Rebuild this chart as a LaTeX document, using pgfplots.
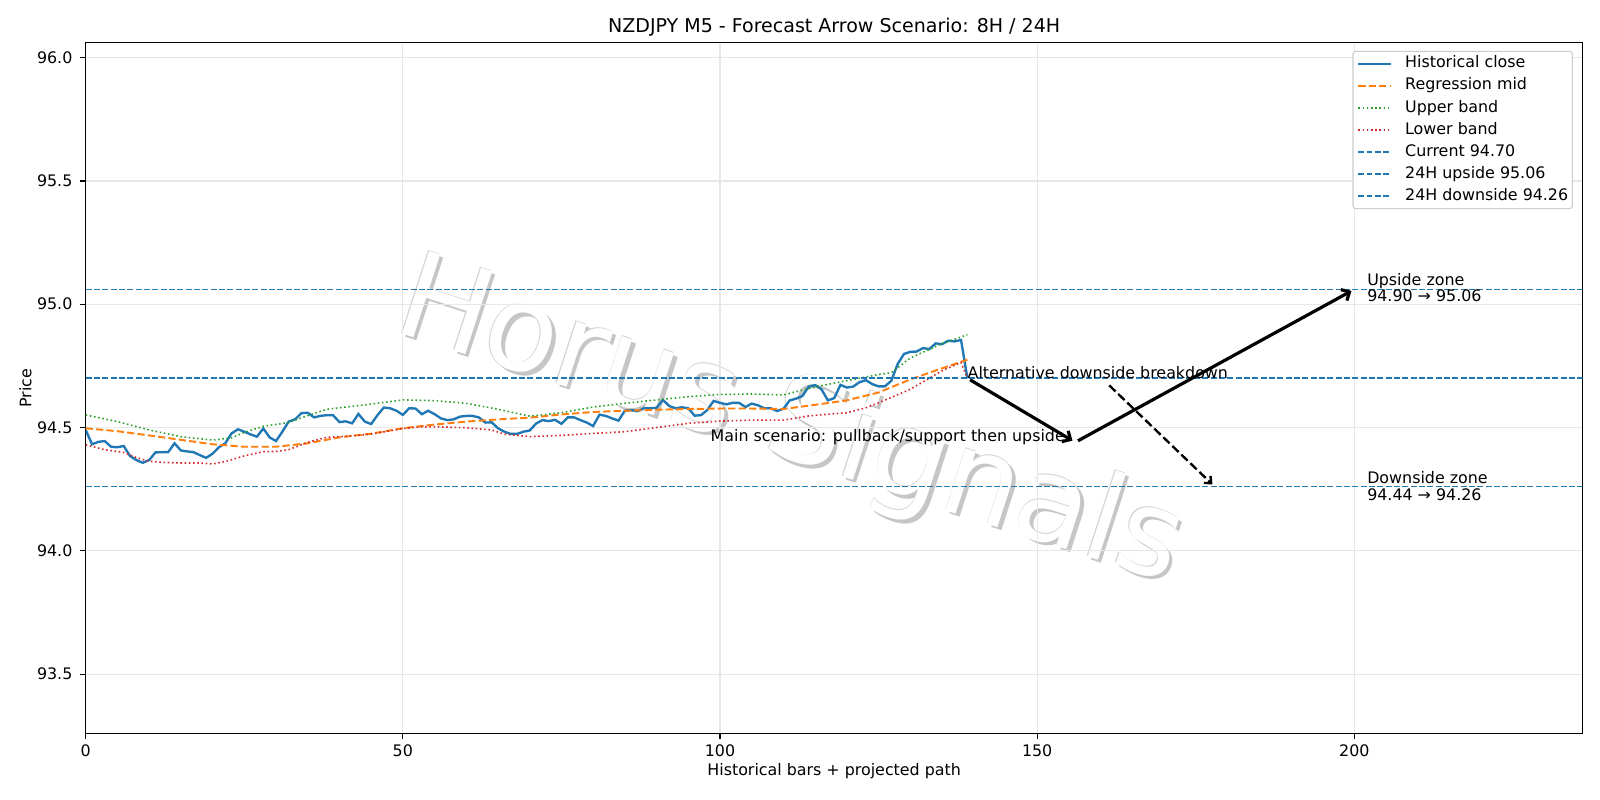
\documentclass[border=0pt]{standalone}
\usepackage{fontspec}
\setmainfont{DejaVu Sans}
\usepackage{pgfplots}
\pgfplotsset{compat=1.18}
\usetikzlibrary{arrows.meta}
\definecolor{c0}{HTML}{1F77B4}
\definecolor{c1}{HTML}{FF7F0E}
\definecolor{c2}{HTML}{2CA02C}
\definecolor{c3}{HTML}{D62728}
\definecolor{gridc}{HTML}{E7E7E7}
\definecolor{legc}{HTML}{CCCCCC}
\newcommand\fs{\fontsize{11.43}{13.7}\selectfont}
\newcommand\wm{\fontsize{86}{95}\selectfont}
\begin{document}
\begin{tikzpicture}
\path[use as bounding box] (-61.7pt,-48pt) rectangle (1090.3pt,528pt);
% watermark
\node[text=gray!45, rotate=-18, font=\wm] at (509.5pt,219.5pt) {Horus Signals};
\node[text=gray!35, rotate=-18, font=\wm] at (506.5pt,222.5pt) {Horus Signals};
\node[text=white, rotate=-18, font=\wm] at (507pt,222pt) {Horus Signals};
\begin{axis}[
  scale only axis, width=1077.8pt, height=497.2pt,
  xmin=0, xmax=236, ymin=93.26, ymax=96.06,
  axis line style={line width=0.9pt},
  every tick/.style={black, line width=0.9pt},
  tick align=outside, major tick length=4pt, tick pos=left,
  xtick={0,50,100,150,200}, ytick={93.5,94,94.5,95,95.5,96},
  grid=major, grid style={gridc, line width=0.9pt},
  /pgf/number format/assume math mode=true,
  xticklabel style={font=\fs, anchor=base, inner sep=0pt, yshift=-12.4pt, /pgf/number format/.cd, fixed, precision=0},
  yticklabel style={font=\fs, anchor=east, inner sep=0pt, xshift=-5.4pt, /pgf/number format/.cd, fixed, fixed zerofill, precision=1},
  title={NZDJPY M5 - Forecast Arrow Scenario: 8H / 24H},
  title style={font=\fontsize{13.7}{16}\selectfont, at={(0.5,1)}, anchor=base, yshift=1.4pt, inner sep=0pt},
  xlabel={Historical bars + projected path},
  xlabel style={font=\fs, at={(0.5,0)}, anchor=base, yshift=-30.7pt, inner sep=0pt},
  ylabel={Price},
  ylabel style={font=\fs, at={([xshift=-43.3pt]axis description cs:0,0.5)}, anchor=center, inner sep=0pt},
  legend cell align=left,
  legend image code/.code={\draw[#1] (0pt,0pt) -- (23.5pt,0pt);},
  legend style={at={(1,1)}, anchor=north east, xshift=-7pt, yshift=-5.8pt,
    draw=legc, line width=0.8pt, rounded corners=2pt, fill=white,
    font=\fs, inner xsep=3pt, inner ysep=3.4pt, row sep=4.9pt,
    nodes={inner sep=0pt, text height=8.5pt, text depth=2.5pt},
    /tikz/every odd column/.append style={column sep=9.4pt}},
]
\addplot[c0, line width=1.7pt] coordinates {
(0,94.490)(1,94.432)(2,94.442)(3,94.445)(4,94.422)(5,94.420)(6,94.425)(7,94.384)(8,94.368)(9,94.357)(10,94.368)(11,94.399)(12,94.400)(13,94.400)(14,94.436)(15,94.407)(16,94.403)(17,94.400)(18,94.388)(19,94.377)(20,94.394)(21,94.420)(22,94.436)(23,94.476)(24,94.493)(25,94.483)(26,94.472)(27,94.463)(28,94.496)(29,94.460)(30,94.445)(31,94.483)(32,94.524)(33,94.533)(34,94.558)(35,94.560)(36,94.541)(37,94.547)(38,94.550)(39,94.550)(40,94.522)(41,94.525)(42,94.517)(43,94.555)(44,94.524)(45,94.514)(46,94.550)(47,94.581)(48,94.578)(49,94.568)(50,94.551)(51,94.578)(52,94.577)(53,94.554)(54,94.568)(55,94.554)(56,94.537)(57,94.530)(58,94.533)(59,94.544)(60,94.547)(61,94.547)(62,94.541)(63,94.520)(64,94.521)(65,94.497)(66,94.483)(67,94.474)(68,94.474)(69,94.483)(70,94.488)(71,94.516)(72,94.530)(73,94.526)(74,94.531)(75,94.515)(76,94.541)(77,94.541)(78,94.530)(79,94.520)(80,94.506)(81,94.552)(82,94.547)(83,94.537)(84,94.528)(85,94.568)(86,94.571)(87,94.566)(88,94.578)(89,94.578)(90,94.580)(91,94.612)(92,94.587)(93,94.578)(94,94.582)(95,94.578)(96,94.548)(97,94.550)(98,94.571)(99,94.608)(100,94.600)(101,94.594)(102,94.600)(103,94.600)(104,94.583)(105,94.597)(106,94.590)(107,94.578)(108,94.578)(109,94.567)(110,94.576)(111,94.610)(112,94.617)(113,94.628)(114,94.666)(115,94.672)(116,94.655)(117,94.610)(118,94.619)(119,94.673)(120,94.662)(121,94.666)(122,94.684)(123,94.692)(124,94.676)(125,94.667)(126,94.667)(127,94.689)(128,94.757)(129,94.798)(130,94.807)(131,94.808)(132,94.822)(133,94.818)(134,94.841)(135,94.838)(136,94.852)(137,94.849)(138,94.855)(139,94.700)
};
\addlegendentry{Historical close}
\addplot[c1, line width=1.4pt, dash pattern=on 5.2pt off 2.3pt] coordinates {
(0,94.497)(5,94.485)(10,94.468)(15,94.450)(20,94.432)(25,94.422)(30,94.422)(35,94.436)(40,94.460)(45,94.475)(50,94.497)(55,94.512)(60,94.524)(65,94.533)(70,94.540)(75,94.553)(80,94.563)(85,94.568)(90,94.572)(95,94.575)(100,94.577)(105,94.577)(110,94.575)(115,94.592)(120,94.610)(125,94.642)(130,94.695)(135,94.740)(139,94.775)
};
\addlegendentry{Regression mid}
\addplot[c2, line width=1.14pt, dash pattern=on 1.14pt off 1.9pt] coordinates {
(0,94.551)(5,94.524)(10,94.490)(15,94.463)(20,94.449)(23,94.458)(25,94.480)(28,94.505)(32,94.520)(35,94.548)(38,94.574)(40,94.580)(45,94.595)(50,94.612)(55,94.609)(60,94.598)(65,94.574)(70,94.546)(75,94.560)(80,94.583)(85,94.598)(90,94.612)(95,94.625)(100,94.634)(105,94.636)(110,94.632)(115,94.665)(120,94.690)(125,94.715)(127,94.722)(130,94.782)(135,94.840)(139,94.876)
};
\addlegendentry{Upper band}
\addplot[c3, line width=1.14pt, dash pattern=on 1.14pt off 1.9pt] coordinates {
(0,94.430)(3,94.410)(6,94.399)(8,94.378)(10,94.363)(12,94.359)(15,94.356)(18,94.356)(20,94.352)(22,94.362)(25,94.385)(28,94.402)(30,94.403)(32,94.410)(35,94.440)(38,94.460)(40,94.463)(45,94.473)(50,94.496)(53,94.503)(55,94.503)(60,94.499)(64,94.490)(66,94.473)(70,94.463)(75,94.468)(80,94.476)(85,94.483)(90,94.500)(95,94.517)(100,94.526)(105,94.530)(110,94.530)(114,94.547)(118,94.556)(120,94.560)(123,94.580)(125,94.600)(130,94.655)(135,94.730)(138,94.764)(139,94.700)
};
\addlegendentry{Lower band}
\addplot[c0, line width=1.14pt, dash pattern=on 4.2pt off 1.8pt] coordinates {(0,94.70) (236,94.70)};
\addlegendentry{Current 94.70}
\addplot[c0, line width=1.14pt, dash pattern=on 4.2pt off 1.8pt] coordinates {(0,95.06) (236,95.06)};
\addlegendentry{24H upside 95.06}
\addplot[c0, line width=1.14pt, dash pattern=on 4.2pt off 1.8pt] coordinates {(0,94.26) (236,94.26)};
\addlegendentry{24H downside 94.26}
% arrows
\draw[black, line width=2.3pt, -{Straight Barb[length=4.6pt,width=9pt]}, shorten <=2.3pt, shorten >=2.3pt] (axis cs:139,94.70) -- (axis cs:156,94.44);
\draw[black, line width=2.3pt, -{Straight Barb[length=4.6pt,width=9pt]}, shorten <=2.3pt, shorten >=2.3pt] (axis cs:156,94.44) -- (axis cs:200,95.06);
\draw[black, line width=1.7pt, dash pattern=on 6.3pt off 2.7pt, -{Straight Barb[length=4pt,width=7pt]}, shorten <=2.3pt, shorten >=2.3pt] (axis cs:161,94.68) -- (axis cs:178,94.26);
% texts
\node[font=\fs, anchor=base west, inner sep=0pt] at (axis cs:139,94.70) {Alternative downside breakdown};
\node[font=\fs, anchor=base east, inner sep=0pt] at (axis cs:154.4,94.442) {Main scenario: pullback/support then upside};
\node[font=\fs, anchor=base west, inner sep=0pt] at (axis cs:202,95.076) {Upside zone};
\node[font=\fs, anchor=base west, inner sep=0pt] at (axis cs:202,95.010) {94.90 → 95.06};
\node[font=\fs, anchor=base west, inner sep=0pt] at (axis cs:202,94.272) {Downside zone};
\node[font=\fs, anchor=base west, inner sep=0pt] at (axis cs:202,94.205) {94.44 → 94.26};
\end{axis}
\end{tikzpicture}
\end{document}
